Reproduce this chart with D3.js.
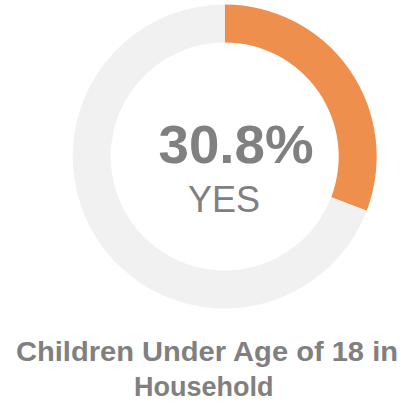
<!DOCTYPE html>
<html>
<head>
<meta charset="utf-8">
<script src="https://cdn.jsdelivr.net/npm/d3@7"></script>
<style>
  html, body { margin: 0; padding: 0; background: #fff; }
  svg { display: block; font-family: "Liberation Sans", Arial, sans-serif; }
</style>
</head>
<body>
<div id="viz"></div>
<script>
// chart data
const categories = ["Yes", "No"];
const values = [30.8, 69.2];
const sliceColors = ["#EF8F4E", "#F1F1F1"];
const valueLabel = "30.8%";
const centerLabel = "YES";
const titleLines = ["Children Under Age of 18 in", "Household"];

const width = 401, height = 404;
const cx = 224.7, cy = 156.5;
const outerR = 152, innerR = 114;

let svg = d3.select("#viz")
  .append("svg")
    .attr("width", width)
    .attr("height", height);

// donut
let pie = d3.pie().sort(null).value(d => d.value);
let arc = d3.arc().innerRadius(innerR).outerRadius(outerR);

let colorScale = d3.scaleOrdinal()
  .domain(categories)
  .range(sliceColors);

let donut = svg.append("g")
  .attr("transform", "translate(" + cx + "," + cy + ")");

donut.selectAll("path")
  .data(pie(categories.map((c, i) => ({cat: c, value: values[i]}))))
  .enter()
  .append("path")
    .attr("d", arc)
    .style("fill", d => colorScale(d.data.cat));

// big percentage in the middle
svg.append("text")
  .attr("x", 236)
  .attr("y", 163)
  .attr("text-anchor", "middle")
  .attr("textLength", 155)
  .attr("lengthAdjust", "spacingAndGlyphs")
  .style("font-size", "53px")
  .style("font-weight", "bold")
  .style("fill", "#808080")
  .text(valueLabel);

svg.append("text")
  .attr("x", 224)
  .attr("y", 212)
  .attr("text-anchor", "middle")
  .style("font-size", "36px")
  .style("fill", "#808080")
  .text(centerLabel);

// title below (first line is set a bit wider in the original)
svg.append("g")
  .selectAll("text")
  .data(titleLines)
  .enter()
  .append("text")
    .attr("x", (d, i) => i === 0 ? 207 : 203.7)
    .attr("y", (d, i) => 360.5 + i * 35.5)
    .attr("text-anchor", "middle")
    .attr("textLength", (d, i) => i === 0 ? 382 : null)
    .attr("lengthAdjust", "spacingAndGlyphs")
    .style("font-size", "27px")
    .style("font-weight", "bold")
    .style("fill", "#808080")
    .text(d => d);
</script>
</body>
</html>
